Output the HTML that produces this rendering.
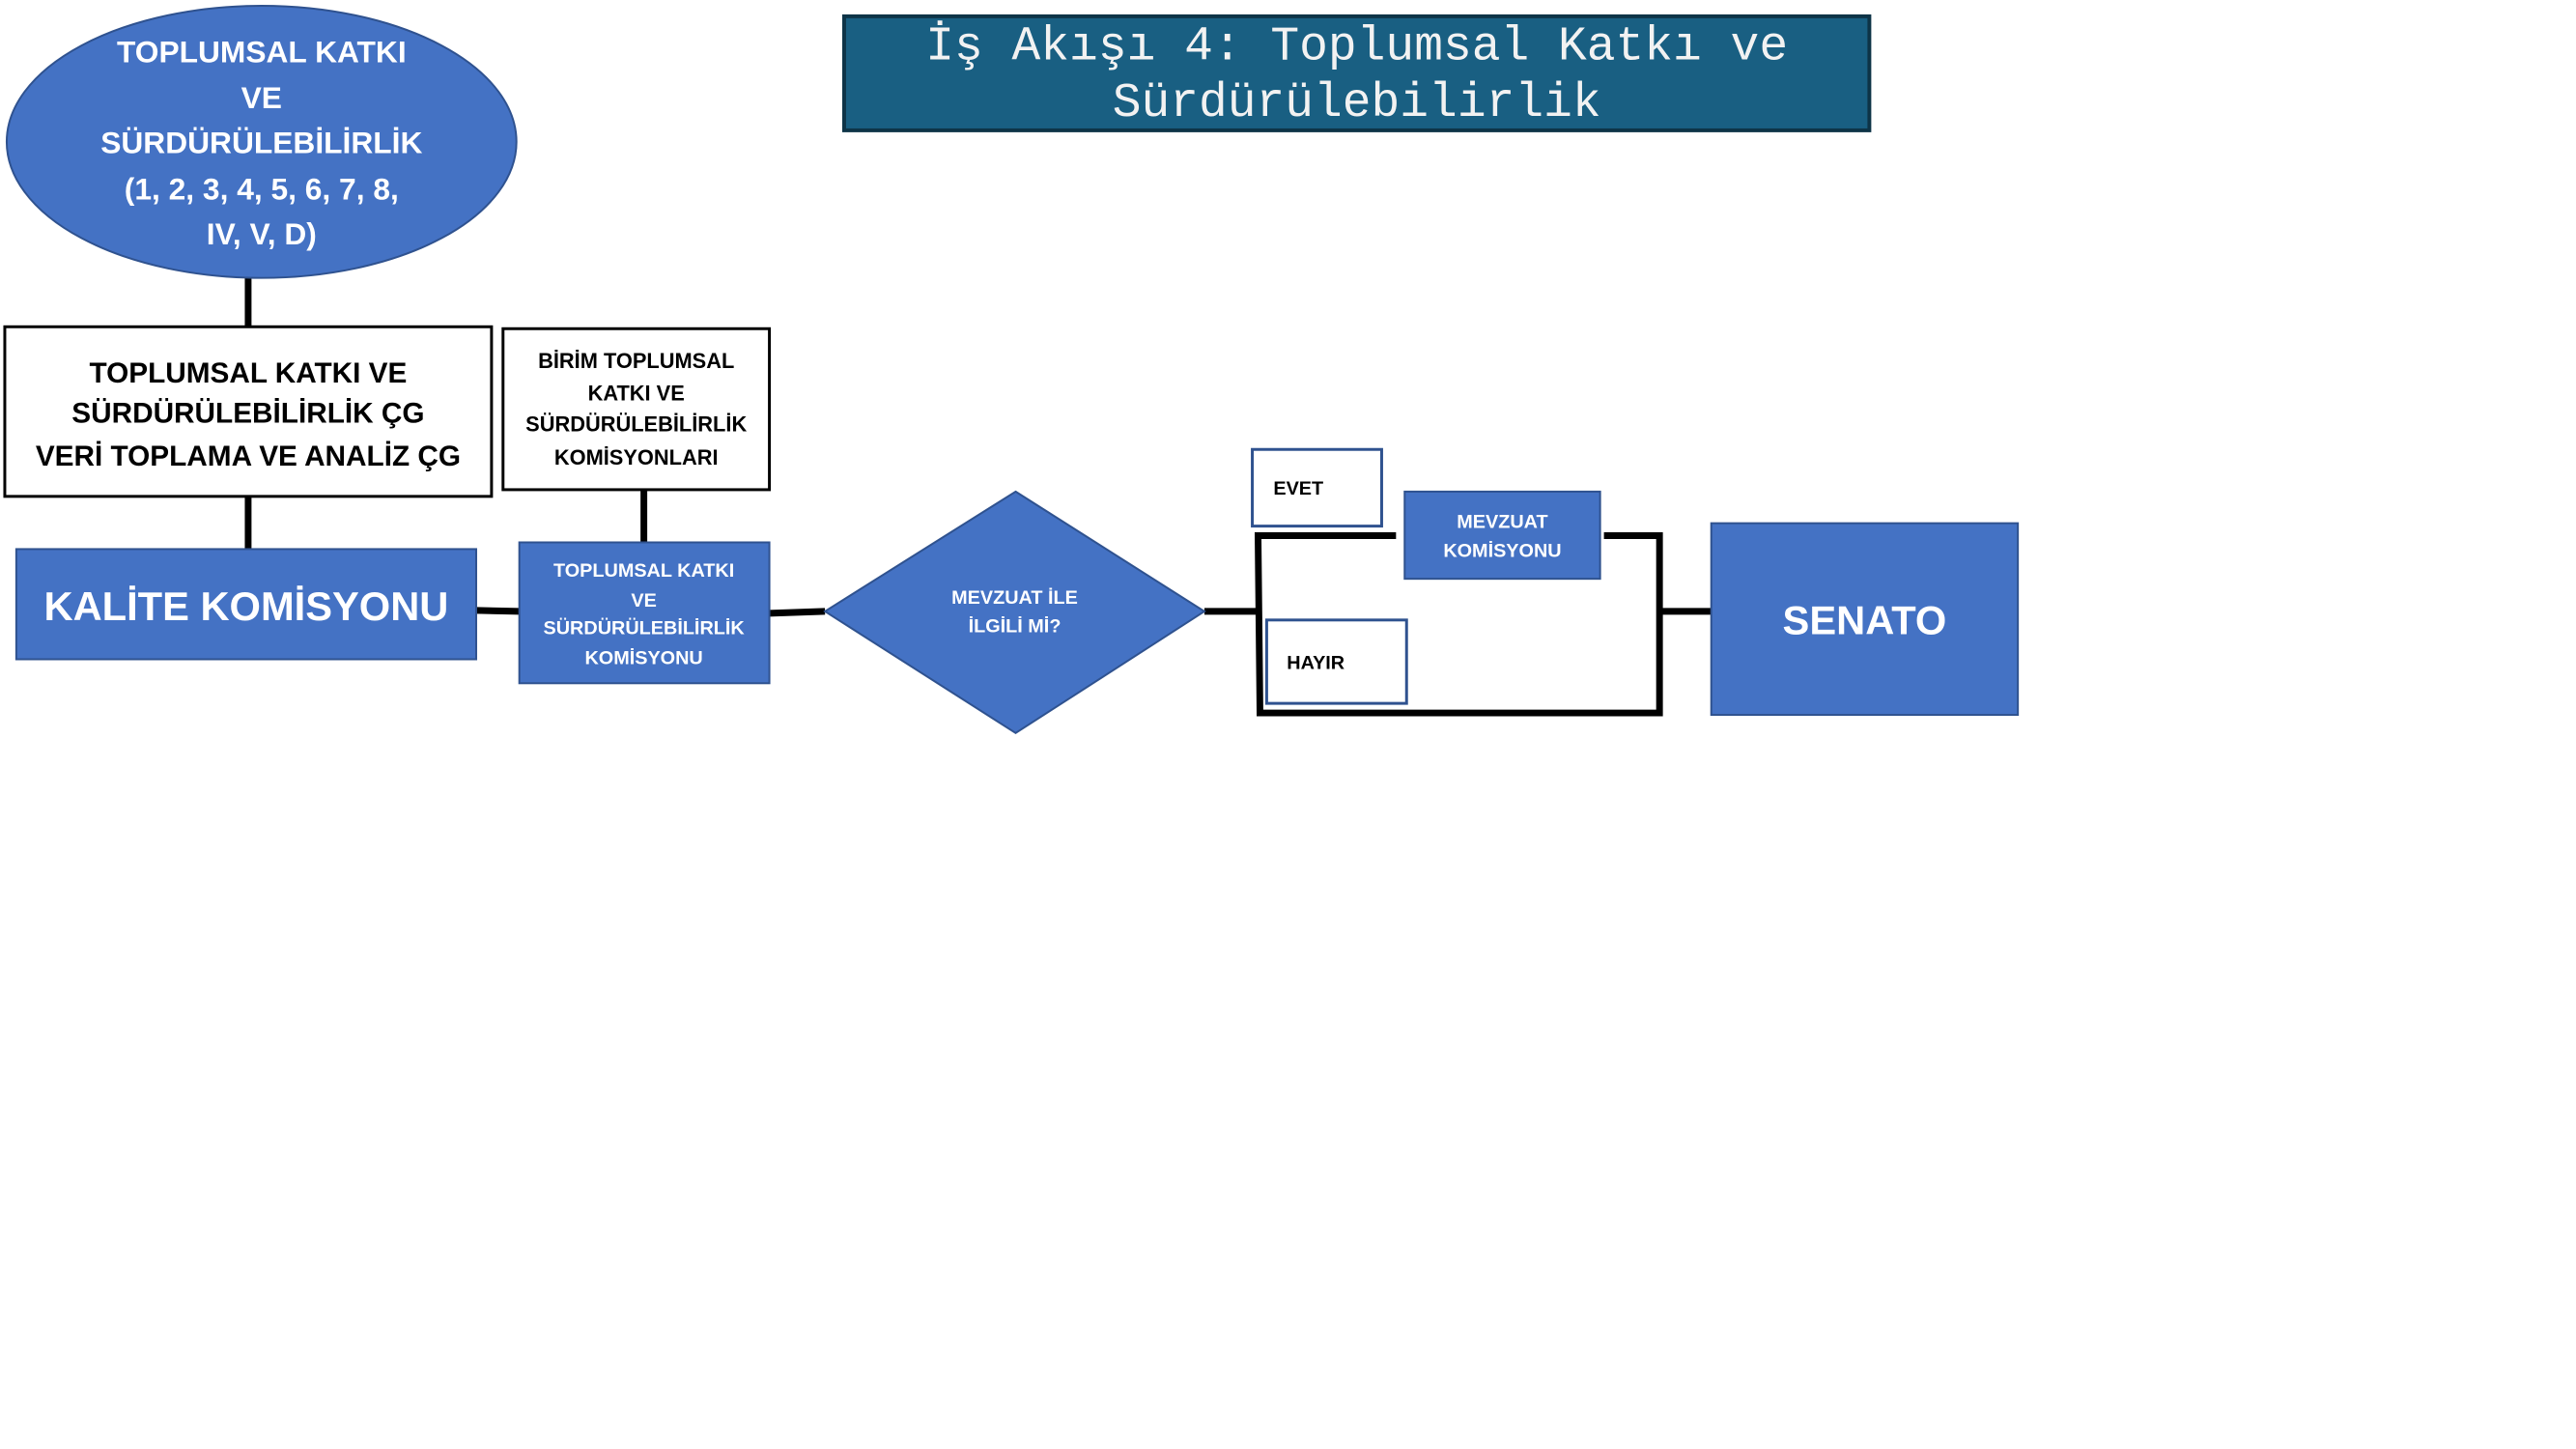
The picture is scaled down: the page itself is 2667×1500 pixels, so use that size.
<!DOCTYPE html>
<html><head><meta charset="utf-8"><style>
html,body{margin:0;padding:0;background:#fff;}
svg{display:block;}
text{font-family:"Liberation Sans",sans-serif;font-weight:bold;}
text.mono{font-family:"Liberation Mono",monospace;font-weight:normal;}
.w{fill:#fff;} .b{fill:#000;}
</style></head><body>
<svg width="2667" height="1500" viewBox="0 0 2667 1500" xmlns="http://www.w3.org/2000/svg">
<rect width="2667" height="1500" fill="#fff"/>
<g transform="scale(0.992)">
<!-- connectors -->
<g stroke="#000" stroke-width="7" fill="none">
<line x1="259" y1="290" x2="259" y2="342"/>
<line x1="259" y1="518" x2="259" y2="573"/>
<line x1="672" y1="511" x2="672" y2="566"/>
<line x1="497" y1="637" x2="542" y2="638"/>
<line x1="803" y1="640" x2="861" y2="638"/>
<line x1="1257" y1="638" x2="1313" y2="638"/>
<polyline points="1457,559 1313,559 1315,744 1732,744 1732,559 1674,559"/>
<line x1="1732" y1="638" x2="1786" y2="638"/>
</g>
<!-- ellipse -->
<ellipse cx="273" cy="148" rx="266" ry="142" fill="#4472C4" stroke="#2F528F" stroke-width="2"/>
<g class="w" font-size="32" text-anchor="middle">
<text x="273" y="65">TOPLUMSAL KATKI</text>
<text x="273" y="113">VE</text>
<text x="273" y="160">SÜRDÜRÜLEBİLİRLİK</text>
<text x="273" y="208">(1, 2, 3, 4, 5, 6, 7, 8,</text>
<text x="273" y="255">IV, V, D)</text>
</g>
<!-- title -->
<rect x="881" y="17" width="1070" height="119" fill="#195F82" stroke="#0E3447" stroke-width="4"/>
<g fill="#f2f2f2" font-size="50" text-anchor="middle">
<text class="mono" x="1416" y="62">İş Akışı 4: Toplumsal Katkı ve</text>
<text class="mono" x="1416" y="121">Sürdürülebilirlik</text>
</g>
<!-- box1 -->
<rect x="5" y="341" width="508" height="177" fill="#fff" stroke="#000" stroke-width="3"/>
<g class="b" font-size="30" text-anchor="middle">
<text x="259" y="399">TOPLUMSAL  KATKI VE</text>
<text x="259" y="441">SÜRDÜRÜLEBİLİRLİK ÇG</text>
<text x="259" y="486">VERİ TOPLAMA VE ANALİZ ÇG</text>
</g>
<!-- box2 -->
<rect x="525" y="343" width="278" height="168" fill="#fff" stroke="#000" stroke-width="3"/>
<g class="b" font-size="22" text-anchor="middle">
<text x="664" y="384">BİRİM TOPLUMSAL</text>
<text x="664" y="418">KATKI VE</text>
<text x="664" y="450">SÜRDÜRÜLEBİLİRLİK</text>
<text x="664" y="485">KOMİSYONLARI</text>
</g>
<!-- kalite -->
<rect x="17" y="573" width="480" height="115" fill="#4472C4" stroke="#2F528F" stroke-width="2"/>
<text class="w" x="257" y="647" font-size="42" text-anchor="middle">KALİTE KOMİSYONU</text>
<!-- TK komisyon -->
<rect x="542" y="566" width="261" height="147" fill="#4472C4" stroke="#2F528F" stroke-width="2"/>
<g class="w" font-size="20" text-anchor="middle">
<text x="672" y="602">TOPLUMSAL KATKI</text>
<text x="672" y="633">VE</text>
<text x="672" y="662">SÜRDÜRÜLEBİLİRLİK</text>
<text x="672" y="693">KOMİSYONU</text>
</g>
<!-- diamond -->
<polygon points="1060,513 1257,638 1060,765 861,638" fill="#4472C4" stroke="#2F528F" stroke-width="2"/>
<g class="w" font-size="20" text-anchor="middle">
<text x="1059" y="630">MEVZUAT İLE</text>
<text x="1059" y="660">İLGİLİ Mİ?</text>
</g>
<!-- evet -->
<rect x="1307" y="469" width="135" height="80" fill="#fff" stroke="#2F528F" stroke-width="3"/>
<text class="b" x="1329" y="516" font-size="20">EVET</text>
<!-- hayir -->
<rect x="1322" y="647" width="146" height="87" fill="#fff" stroke="#2F528F" stroke-width="3"/>
<text class="b" x="1343" y="698" font-size="20">HAYIR</text>
<!-- mevzuat -->
<rect x="1466" y="513" width="204" height="91" fill="#4472C4" stroke="#2F528F" stroke-width="2"/>
<g class="w" font-size="20" text-anchor="middle">
<text x="1568" y="551">MEVZUAT</text>
<text x="1568" y="581">KOMİSYONU</text>
</g>
<!-- senato -->
<rect x="1786" y="546" width="320" height="200" fill="#4472C4" stroke="#2F528F" stroke-width="2"/>
<text class="w" x="1946" y="662" font-size="42" text-anchor="middle">SENATO</text>
</g>
</svg>
</body></html>
